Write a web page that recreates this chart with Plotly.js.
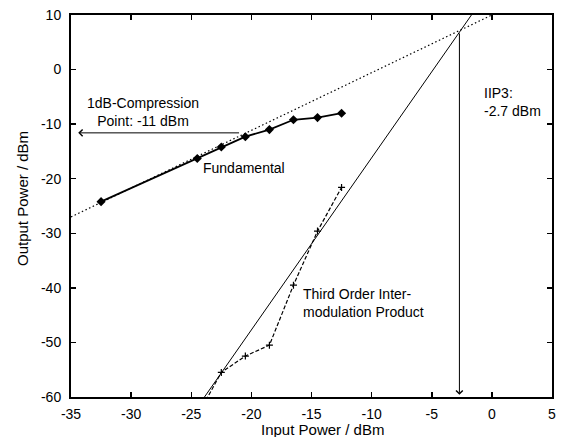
<!DOCTYPE html>
<html>
<head>
<meta charset="utf-8">
<script src="https://cdn.plot.ly/plotly-3.0.1.min.js"></script>
<style>html,body{margin:0;padding:0;background:#fff;}#chart{width:567px;height:437px;}</style>
</head>
<body>
<div id="chart"></div>
<script>
// Fundamental (measured)
const fundIn  = [-32.5, -24.5, -22.5, -20.5, -18.5, -16.5, -14.5, -12.5];
const fundOut = [-24.2, -16.3, -14.2, -12.3, -11.0, -9.2, -8.8, -8.0];
// Third order intermodulation product (measured)
const imIn  = [-24.5, -22.5, -20.5, -18.5, -16.5, -14.5, -12.5];
const imOut = [-63.5, -55.5, -52.5, -50.5, -39.5, -29.6, -21.6];
// Extrapolated lines
const fundExtIn  = [-35, 0];
const fundExtOut = [-27, 10];
const imExtIn  = [-23.9, -1.7];
const imExtOut = [-60, 10];
// Annotated points
const iip3In = -2.7, iip3Out = 6.9;
const p1dBOut = -11.6;
const xTicks = [-35, -30, -25, -20, -15, -10, -5, 0, 5];
const yTicks = [-60, -50, -40, -30, -20, -10, 0, 10];

const FAM = 'Liberation Sans, Arial, Helvetica, sans-serif';
const tickFont = {family: FAM, size: 14, color: '#000'};
const textFont = {family: FAM, size: 14, color: '#000'};
const titleFont = {family: FAM, size: 15, color: '#000'};

const traces = [
  {x: fundExtIn, y: fundExtOut, mode: 'lines', line: {color: '#000', width: 1.2, dash: '1.5px,2.5px'}, hoverinfo: 'skip'},
  {x: imExtIn, y: imExtOut, mode: 'lines', line: {color: '#000', width: 1}, hoverinfo: 'skip'},
  {x: fundIn, y: fundOut, mode: 'lines+markers', line: {color: '#000', width: 1.8},
   marker: {symbol: 'diamond', size: 7, color: '#000'}},
  {x: imIn, y: imOut, mode: 'lines+markers', line: {color: '#000', width: 1.2, dash: '4px,2px'},
   marker: {symbol: 'cross-thin', size: 5, line: {color: '#000', width: 1.2}}}
];

const axisCommon = {
  showgrid: false, zeroline: false, showline: true, linecolor: '#000', linewidth: 2,
  mirror: 'ticks', ticks: 'inside', ticklen: 5, tickwidth: 1.5, tickcolor: '#000',
  tickfont: tickFont
};

function ann(x, y, text, opts) {
  return Object.assign({x: x, y: y, xref: 'x', yref: 'y', text: text, showarrow: false,
    font: textFont}, opts || {});
}

const layout = {
  width: 567, height: 437,
  margin: {l: 71, r: 15, t: 15, b: 40},
  paper_bgcolor: '#fff', plot_bgcolor: '#fff',
  showlegend: false,
  font: textFont,
  xaxis: Object.assign({}, axisCommon, {
    range: [-35, 5], tickvals: xTicks, ticktext: xTicks.map(String), ticklabelstandoff: 3
  }),
  yaxis: Object.assign({}, axisCommon, {
    range: [-60, 10], tickvals: yTicks, ticktext: yTicks.map(String), ticklabelstandoff: 5
  }),
  annotations: [
    {x: -34.4, y: p1dBOut, ax: -20.9, ay: p1dBOut, axref: 'x', ayref: 'y', xref: 'x', yref: 'y',
     showarrow: true, arrowhead: 4, arrowsize: 1.3, arrowwidth: 1, arrowcolor: '#000', text: ''},
    ann(-29.0, -7.7, '1dB-Compression<br>Point: -11 dBm', {align: 'center'}),
    ann(-20.6, -18.1, 'Fundamental'),
    {x: iip3In, y: -59.6, ax: iip3In, ay: iip3Out, axref: 'x', ayref: 'y', xref: 'x', yref: 'y',
     showarrow: true, arrowhead: 4, arrowsize: 1.3, arrowwidth: 1, arrowcolor: '#000', text: ''},
    ann(-0.81, -6.0, 'IIP3:<br>-2.7 dBm', {xanchor: 'left', align: 'left'}),
    ann(-15.84, -42.8, 'Third Order Inter-<br>modulation Product', {xanchor: 'left', align: 'left'}),
    {xref: 'paper', yref: 'paper', x: (322 - 71) / 481, y: -(429.5 - 397) / 382, text: 'Input Power / dBm',
     showarrow: false, font: titleFont, xanchor: 'center', yanchor: 'middle'},
    {xref: 'paper', yref: 'paper', x: -(71 - 23) / 481, y: (397 - 199) / 382, text: 'Output Power / dBm',
     showarrow: false, font: titleFont, textangle: -90, xanchor: 'center', yanchor: 'middle'}
  ]
};

Plotly.newPlot('chart', traces, layout, {staticPlot: true, displayModeBar: false});
</script>
</body>
</html>
